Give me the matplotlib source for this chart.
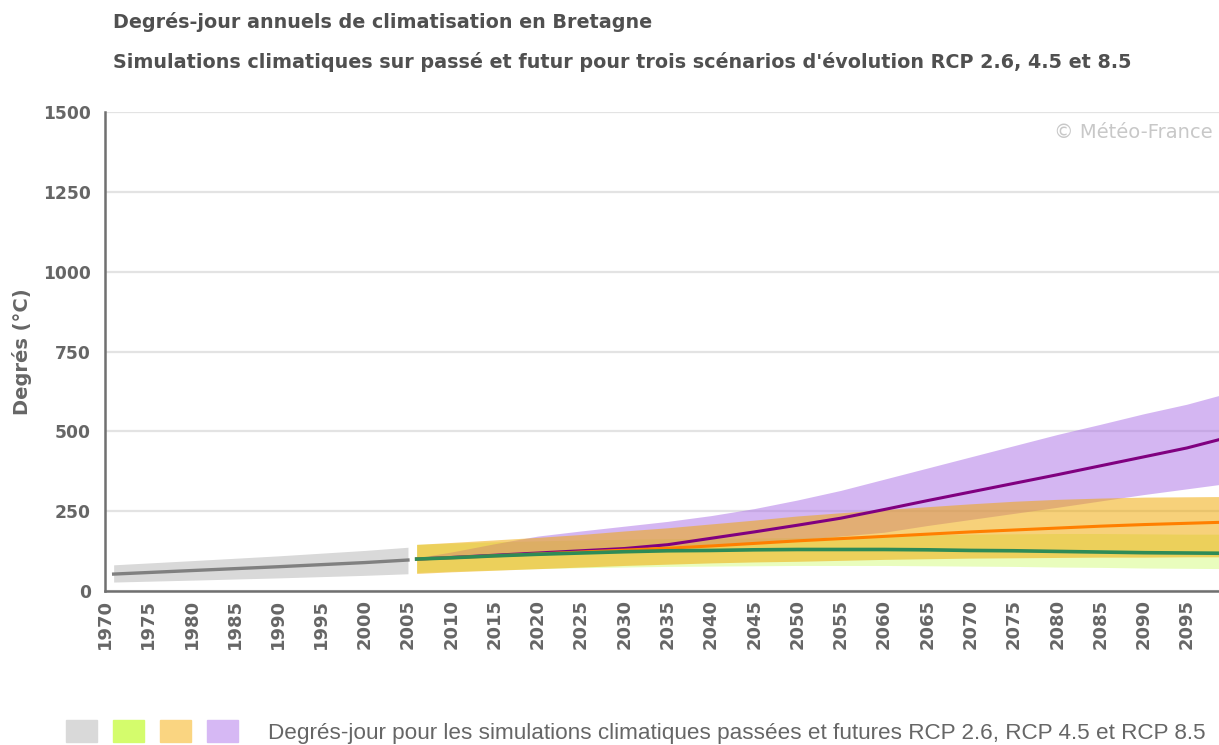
import numpy as np
import matplotlib
matplotlib.use('Agg')
import matplotlib.pyplot as plt
from matplotlib.patches import Patch
from matplotlib.legend_handler import HandlerTuple

# --- données ---
hist_years = [1971, 1980, 1990, 2000, 2005]
hist_mid = [53, 64, 76, 89, 97]
hist_low = [28, 34, 41, 49, 54]
hist_high = [82, 95, 110, 127, 137]

fut_years = [2006, 2010, 2015, 2020, 2025, 2030, 2035, 2040, 2045, 2050,
             2055, 2060, 2065, 2070, 2075, 2080, 2085, 2090, 2095, 2100]

rcp26_mid = [100, 104, 110, 115, 119, 123, 126, 127, 129, 130,
             130, 130, 129, 127, 126, 124, 122, 120, 119, 118]
rcp26_low = [58, 62, 66, 70, 73, 75, 77, 78, 79, 80,
             80, 80, 79, 78, 77, 75, 74, 72, 71, 70]
rcp26_high = [146, 150, 154, 157, 160, 162, 164, 165, 166, 167,
              170, 173, 176, 178, 179, 180, 180, 179, 178, 178]

rcp45_mid = [100, 104, 110, 116, 122, 128, 134, 141, 149, 157,
             164, 171, 178, 185, 191, 197, 203, 208, 212, 216]
rcp45_low = [55, 60, 65, 70, 75, 80, 84, 88, 91, 93,
             96, 99, 101, 103, 104, 105, 106, 106, 107, 107]
rcp45_high = [146, 152, 160, 168, 177, 188, 198, 210, 222, 235,
              245, 255, 264, 273, 281, 287, 291, 294, 295, 296]

rcp85_mid = [100, 105, 112, 119, 126, 133, 145, 165, 185, 206,
             228, 255, 283, 310, 337, 364, 392, 420, 448, 483]
rcp85_low = [100, 108, 117, 125, 131, 136, 140, 146, 153, 160,
             172, 184, 205, 224, 243, 262, 282, 302, 320, 338]
rcp85_high = [104, 122, 148, 172, 188, 203, 218, 236, 258, 285,
              315, 350, 385, 420, 455, 490, 522, 555, 585, 622]

y_ticks = [0, 250, 500, 750, 1000, 1250, 1500]
x_ticks = list(range(1970, 2100, 5))

txt_grey = '#666666'
plt.rcParams['font.family'] = ['DejaVu Sans']

fig = plt.figure(figsize=(12.19, 7.45), dpi=100)
ax = fig.add_axes([105 / 1219, 1 - 591 / 745, 1 - 105 / 1219, (591 - 112) / 745])

# bandes
ax.fill_between(hist_years, hist_low, hist_high, color='#d9d9d9', lw=0, zorder=2)
ax.fill_between(fut_years, rcp26_low, rcp26_high, color=(200/255, 250/255, 90/255), alpha=0.4, lw=0, zorder=2)
ax.fill_between(fut_years, rcp85_low, rcp85_high, color=(170/255, 110/255, 230/255), alpha=0.5, lw=0, zorder=3)
ax.fill_between(fut_years, rcp45_low, rcp45_high, color=(240/255, 168/255, 1/255), alpha=0.52, lw=0, zorder=4)

# courbes médianes
ax.plot(hist_years, hist_mid, color='#808080', lw=2.4, zorder=5)
ax.plot(fut_years, rcp85_mid, color='#800080', lw=2.2, zorder=6)
ax.plot(fut_years, rcp45_mid, color='#ff7f00', lw=2.2, zorder=7)
ax.plot(fut_years, rcp26_mid, color='#2e8b57', lw=2.6, zorder=8)

ax.set_xlim(1970, 2098.7)
ax.set_ylim(0, 1500)
ax.set_yticks(y_ticks)
ax.set_xticks(x_ticks)
ax.set_xticklabels([str(y) for y in x_ticks], rotation=90)
ax.tick_params(axis='y', length=0, pad=10, labelsize=12.3, labelcolor=txt_grey)
ax.tick_params(axis='x', length=0, pad=6, labelsize=13, labelcolor=txt_grey)
for lab in ax.get_xticklabels() + ax.get_yticklabels():
    lab.set_fontweight('bold')

ax.grid(axis='y', color='#e3e3e3', lw=1.6, zorder=0)
ax.set_axisbelow(True)
for s in ['top', 'right']:
    ax.spines[s].set_visible(False)
for s in ['left', 'bottom']:
    ax.spines[s].set_color('#707070')
    ax.spines[s].set_linewidth(1.8)
    ax.spines[s].set_zorder(10)

ax.text(0.9945, 1 - (132 - 112) / 479, '© Météo-France', transform=ax.transAxes,
        ha='right', va='center', fontsize=14, color='#c8c8c8')

# titres
fig.text(113 / 1219, 1 - 22 / 745, 'Degrés-jour annuels de climatisation en Bretagne',
         ha='left', va='center', fontsize=13.8, fontweight='bold', color='#505050')
fig.text(113 / 1219, 1 - 62 / 745,
         "Simulations climatiques sur passé et futur pour trois scénarios d'évolution RCP 2.6, 4.5 et 8.5",
         ha='left', va='center', fontsize=13.8, fontweight='bold', color='#505050')
fig.text(22 / 1219, 1 - 352 / 745, 'Degrés (°C)', rotation=90, ha='center', va='center',
         fontsize=14, fontweight='bold', color=txt_grey)

# légende
handles = (Patch(color='#d9d9d9'), Patch(color='#d4fc6c'),
           Patch(color='#fad581'), Patch(color='#d6b8f4'))
fs = 16.2
px = fs * 100 / 72
fig.legend([handles],
           ['Degrés-jour pour les simulations climatiques passées et futures RCP 2.6, RCP 4.5 et RCP 8.5'],
           handler_map={tuple: HandlerTuple(ndivide=None, pad=16 / px)},
           loc='center left', bbox_to_anchor=(66 / 1219, 1 - 732 / 745),
           frameon=False, borderpad=0, borderaxespad=0,
           handlelength=172 / px, handleheight=25 / px, handletextpad=30 / px,
           prop={'family': ['Liberation Sans'], 'size': fs},
           labelcolor=txt_grey)

fig.savefig('out.png', dpi=100)
